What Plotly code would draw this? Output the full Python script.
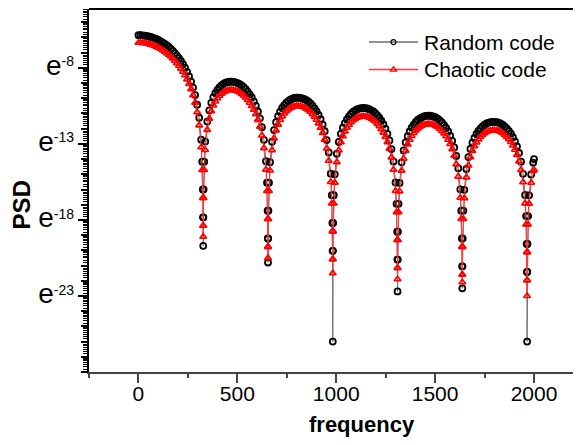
import math
import plotly.graph_objects as go

# frequency samples (Hz)
freq = [
    0, 10.2, 20.5, 30.7, 40.9, 51.2, 61.4, 71.6, 81.9, 92.1, 102.3, 112.6, 122.8, 133.0, 143.3, 153.5,
    163.8, 174.0, 184.2, 194.5, 204.7, 214.9, 225.2, 235.4, 245.6, 255.9, 266.1, 276.3, 286.6, 296.8, 307.0, 317.3,
    322.4, 325.5, 326.7, 327.5, 328.3, 329.5, 332.6,
    337.7, 348.0, 358.2, 368.4, 378.7, 388.9, 399.1, 409.4, 419.6, 429.8, 440.1, 450.3, 460.5, 470.8, 481.0, 491.3,
    501.5, 511.7, 522.0, 532.2, 542.4, 552.7, 562.9, 573.1, 583.4, 593.6, 603.8, 614.1, 624.3, 634.5, 644.8,
    649.9, 653.0, 654.2, 655.0, 655.8, 657.0, 660.1,
    665.2, 675.5, 685.7, 695.9, 706.2, 716.4, 726.6, 736.9, 747.1, 757.3, 767.6, 777.8, 788.0, 798.3, 808.5, 818.8,
    829.0, 839.2, 849.5, 859.7, 869.9, 880.2, 890.4, 900.6, 910.9, 921.1, 931.3, 941.6, 951.8, 962.0, 972.3,
    977.4, 980.5, 981.7, 982.5, 983.3, 984.5, 987.6,
    992.7, 1003.0, 1013.2, 1023.4, 1033.7, 1043.9, 1054.1, 1064.4, 1074.6, 1084.8, 1095.1, 1105.3, 1115.5, 1125.8, 1136.0, 1146.3,
    1156.5, 1166.7, 1177.0, 1187.2, 1197.4, 1207.7, 1217.9, 1228.1, 1238.4, 1248.6, 1258.8, 1269.1, 1279.3, 1289.5, 1299.8,
    1304.9, 1308.0, 1309.2, 1310.0, 1310.8, 1312.0, 1315.1,
    1320.2, 1330.5, 1340.7, 1350.9, 1361.2, 1371.4, 1381.6, 1391.9, 1402.1, 1412.3, 1422.6, 1432.8, 1443.0, 1453.3, 1463.5, 1473.8,
    1484.0, 1494.2, 1504.5, 1514.7, 1524.9, 1535.2, 1545.4, 1555.6, 1565.9, 1576.1, 1586.3, 1596.6, 1606.8, 1617.0, 1627.3,
    1632.4, 1635.5, 1636.7, 1637.5, 1638.3, 1639.5, 1642.6,
    1647.7, 1658.0, 1668.2, 1678.4, 1688.7, 1698.9, 1709.1, 1719.4, 1729.6, 1739.8, 1750.1, 1760.3, 1770.5, 1780.8, 1791.0, 1801.3,
    1811.5, 1821.7, 1832.0, 1842.2, 1852.4, 1862.7, 1872.9, 1883.1, 1893.4, 1903.6, 1913.8, 1924.1, 1934.3, 1944.5, 1954.8,
    1959.9, 1963.0, 1964.2, 1965.0, 1965.8, 1967.0, 1970.1,
    1975.2, 1985.5, 1995.7, 2000.0,
]

# natural log of PSD, random code
ln_psd_random = [
    -5.85, -5.85, -5.86, -5.88, -5.90, -5.93, -5.97, -6.01, -6.06, -6.12, -6.18, -6.26, -6.34, -6.43, -6.53, -6.63,
    -6.75, -6.88, -7.03, -7.19, -7.36, -7.55, -7.76, -7.99, -8.26, -8.56, -8.90, -9.30, -9.79, -10.42, -11.28, -12.72,
    -14.17, -16.00, -17.83, -19.70, -17.83, -16.00, -14.17,
    -12.85, -11.53, -10.79, -10.30, -9.93, -9.66, -9.45, -9.28, -9.15, -9.05, -8.98, -8.94, -8.91, -8.90, -8.92, -8.95,
    -9.00, -9.07, -9.16, -9.27, -9.40, -9.56, -9.74, -9.95, -10.20, -10.50, -10.87, -11.32, -11.90, -12.73, -14.14,
    -15.55, -17.39, -19.22, -20.80, -19.22, -17.39, -15.55,
    -14.20, -12.86, -12.09, -11.57, -11.18, -10.88, -10.64, -10.45, -10.30, -10.19, -10.09, -10.03, -9.98, -9.96, -9.96, -9.97,
    -10.01, -10.06, -10.13, -10.23, -10.34, -10.49, -10.66, -10.86, -11.10, -11.38, -11.73, -12.17, -12.75, -13.56, -14.96,
    -16.37, -18.20, -20.03, -26.00, -20.03, -18.20, -16.37,
    -15.00, -13.65, -12.87, -12.34, -11.94, -11.63, -11.39, -11.19, -11.03, -10.90, -10.81, -10.73, -10.68, -10.65, -10.64, -10.65,
    -10.67, -10.72, -10.79, -10.87, -10.98, -11.12, -11.28, -11.48, -11.71, -11.99, -12.34, -12.77, -13.34, -14.15, -15.54,
    -16.94, -18.77, -20.61, -22.70, -20.61, -18.77, -16.94,
    -15.57, -14.21, -13.43, -12.90, -12.49, -12.18, -11.93, -11.73, -11.56, -11.43, -11.33, -11.25, -11.19, -11.16, -11.14, -11.15,
    -11.17, -11.21, -11.28, -11.36, -11.47, -11.60, -11.76, -11.95, -12.18, -12.46, -12.80, -13.23, -13.79, -14.60, -15.99,
    -17.39, -19.22, -21.05, -22.50, -21.05, -19.22, -17.39,
    -16.02, -14.65, -13.87, -13.33, -12.92, -12.61, -12.35, -12.15, -11.98, -11.85, -11.74, -11.66, -11.60, -11.57, -11.55, -11.55,
    -11.57, -11.61, -11.67, -11.75, -11.86, -11.99, -12.14, -12.33, -12.56, -12.84, -13.17, -13.60, -14.17, -14.97, -16.36,
    -17.75, -19.58, -21.42, -26.00, -21.42, -19.58, -17.75,
    -16.38, -15.01, -14.23, -14.00,
]

# natural log of PSD, chaotic code
ln_psd_chaotic = [
    -6.35, -6.35, -6.36, -6.38, -6.40, -6.43, -6.47, -6.51, -6.56, -6.62, -6.68, -6.76, -6.84, -6.93, -7.03, -7.13,
    -7.25, -7.38, -7.53, -7.69, -7.86, -8.05, -8.26, -8.49, -8.76, -9.06, -9.40, -9.80, -10.29, -10.92, -11.78, -13.22,
    -14.72, -16.55, -18.38, -19.10, -18.38, -16.55, -14.72,
    -13.40, -12.08, -11.34, -10.85, -10.48, -10.21, -10.00, -9.83, -9.70, -9.60, -9.53, -9.49, -9.46, -9.45, -9.47, -9.50,
    -9.55, -9.62, -9.71, -9.82, -9.95, -10.11, -10.29, -10.50, -10.75, -11.05, -11.42, -11.87, -12.45, -13.28, -14.69,
    -16.10, -17.94, -19.77, -20.50, -19.77, -17.94, -16.10,
    -14.75, -13.41, -12.64, -12.12, -11.73, -11.43, -11.19, -11.00, -10.85, -10.74, -10.64, -10.58, -10.53, -10.51, -10.51, -10.52,
    -10.56, -10.61, -10.68, -10.78, -10.89, -11.04, -11.21, -11.41, -11.65, -11.93, -12.28, -12.72, -13.30, -14.11, -15.51,
    -16.92, -18.75, -20.58, -21.50, -20.58, -18.75, -16.92,
    -15.55, -14.20, -13.42, -12.89, -12.49, -12.18, -11.94, -11.74, -11.58, -11.45, -11.36, -11.28, -11.23, -11.20, -11.19, -11.20,
    -11.22, -11.27, -11.34, -11.42, -11.53, -11.67, -11.83, -12.03, -12.26, -12.54, -12.89, -13.32, -13.89, -14.70, -16.09,
    -17.49, -19.32, -21.16, -21.90, -21.16, -19.32, -17.49,
    -16.12, -14.76, -13.98, -13.45, -13.04, -12.73, -12.48, -12.28, -12.11, -11.98, -11.88, -11.80, -11.74, -11.71, -11.69, -11.70,
    -11.72, -11.76, -11.83, -11.91, -12.02, -12.15, -12.31, -12.50, -12.73, -13.01, -13.35, -13.78, -14.34, -15.15, -16.54,
    -17.94, -19.77, -21.60, -22.10, -21.60, -19.77, -17.94,
    -16.57, -15.20, -14.42, -13.88, -13.47, -13.16, -12.90, -12.70, -12.53, -12.40, -12.29, -12.21, -12.15, -12.12, -12.10, -12.10,
    -12.12, -12.16, -12.22, -12.30, -12.41, -12.54, -12.69, -12.88, -13.11, -13.39, -13.72, -14.15, -14.72, -15.52, -16.91,
    -18.30, -20.13, -21.97, -23.00, -21.97, -20.13, -18.30,
    -16.93, -15.56, -14.78, -14.70,
]

series_names = ["Random code", "Chaotic code"]
y_label_powers = [-8, -13, -18, -23]
x_tick_values = [0, 500, 1000, 1500, 2000]
y_range = [-28, -4.13]
x_range = [-250, 2278]

FONT = "Liberation Sans, Arial, sans-serif"

# log-style minor tick positions (in ln units) between integer powers of e
minor_y = []
for p in range(-28, -4):
    for j in range(1, 8):
        minor_y.append(p + math.log(1 + j * (math.e - 1) / 8))

y_ticktext = ["<span style='font-size:28px'>e</span><sup>%d</sup>" % p for p in y_label_powers]

BLACK_LINE = "#707070"
RED_LINE = "#ff3a3a"

fig = go.Figure()
fig.add_trace(go.Scatter(
    x=freq, y=ln_psd_random, name=series_names[0], mode="lines+markers",
    line=dict(color=BLACK_LINE, width=1),
    marker=dict(symbol="circle-open", size=6, color="black", line=dict(width=1.8, color="black")),
))
fig.add_trace(go.Scatter(
    x=freq, y=ln_psd_chaotic, name=series_names[1], mode="lines+markers",
    line=dict(color=RED_LINE, width=1),
    marker=dict(symbol="triangle-up-open", size=6, color="red", line=dict(width=1.6, color="red")),
))
# carrier for the integer-power tick axis
fig.add_trace(go.Scatter(x=[None], y=[None], yaxis="y2", hoverinfo="skip"))

# legend drawn on a hidden unit overlay (paper-like coordinates)
leg_rows = [(0.909, BLACK_LINE, "circle-open", "black", 5), (0.833, RED_LINE, "triangle-up-open", "red", 6)]
for yy, lc, sym, mc, ms in leg_rows:
    fig.add_trace(go.Scatter(x=[0.56, 0.658], y=[yy, yy], mode="lines", xaxis="x2", yaxis="y3",
                             line=dict(color=lc, width=1.5), hoverinfo="skip"))
    fig.add_trace(go.Scatter(x=[0.609], y=[yy], mode="markers", xaxis="x2", yaxis="y3",
                             marker=dict(symbol=sym, size=ms, color=mc, line=dict(width=1.2, color=mc)),
                             hoverinfo="skip"))

annotations = [
    dict(text="<b>frequency</b>", xref="paper", yref="paper", x=0.546, y=-0.146,
         xanchor="center", yanchor="middle", showarrow=False,
         font=dict(family=FONT, size=22, color="black")),
    dict(text="<b>PSD</b>", xref="paper", yref="paper", x=-0.136, y=0.459,
         xanchor="center", yanchor="middle", showarrow=False, textangle=-90,
         font=dict(family=FONT, size=24, color="black")),
]
for (yy, *_), name in zip(leg_rows, series_names):
    annotations.append(dict(text=name, xref="paper", yref="paper", x=0.666, y=yy,
                            xanchor="left", yanchor="middle", showarrow=False,
                            font=dict(family=FONT, size=21, color="black")))

fig.update_layout(
    width=581, height=445,
    margin=dict(l=81, r=0, t=1, b=81, autoexpand=False),
    paper_bgcolor="white", plot_bgcolor="white",
    font=dict(family=FONT, color="black"),
    showlegend=False,
    xaxis=dict(
        range=x_range, tickvals=x_tick_values, ticktext=[str(v) for v in x_tick_values],
        showgrid=False, zeroline=False, automargin=False,
        showline=True, linecolor="#444", linewidth=1.5,
        ticks="outside", ticklen=9, tickwidth=1.5, tickcolor="#444",
        tickfont=dict(family=FONT, size=21, color="black"),
        ticklabelstandoff=-7,
        minor=dict(tickvals=[-250, 250, 750, 1250, 1750], ticks="outside", ticklen=4, tickwidth=1.5, tickcolor="#444"),
    ),
    xaxis2=dict(range=[0, 1], overlaying="x", visible=False, automargin=False),
    yaxis=dict(
        range=y_range, tickvals=y_label_powers, ticktext=y_ticktext,
        showgrid=False, zeroline=False, automargin=False,
        showline=True, linecolor="black", linewidth=2,
        ticks="outside", ticklen=9, tickwidth=1.5, tickcolor="black",
        tickfont=dict(family=FONT, size=20, color="black"),
        minor=dict(tickvals=minor_y, ticks="outside", ticklen=4, tickwidth=1, tickcolor="black"),
    ),
    yaxis2=dict(
        range=y_range, overlaying="y", side="left", anchor="x", automargin=False,
        tickvals=list(range(-28, -4)),
        showticklabels=False, showgrid=False, zeroline=False, showline=False,
        ticks="outside", ticklen=7, tickwidth=1.5, tickcolor="black",
    ),
    yaxis3=dict(range=[0, 1], overlaying="y", visible=False, automargin=False),
    shapes=[dict(type="line", xref="paper", yref="paper", x0=0, x1=1, y0=1, y1=1,
                 line=dict(color="black", width=2))],
    annotations=annotations,
)

fig.write_html("out.html")
